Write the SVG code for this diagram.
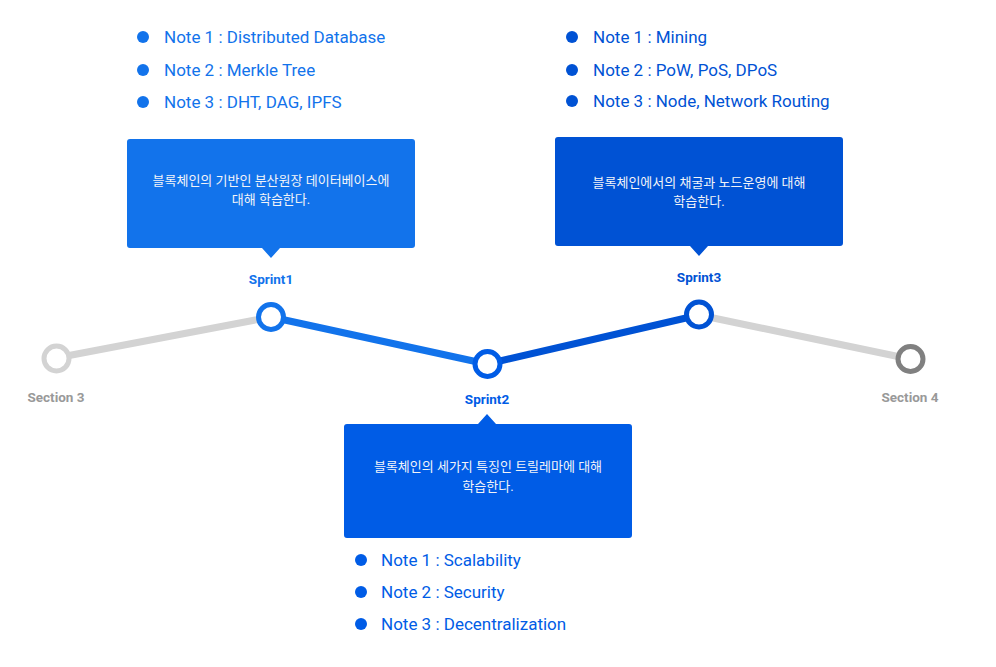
<svg xmlns="http://www.w3.org/2000/svg" width="996" height="667" viewBox="0 0 996 667">
<style>
.note{font-family:Roboto,"Liberation Sans",sans-serif;font-size:17px}
.c1{fill:#1273EB}.c2{fill:#005CE6}.c3{fill:#0052D4}
.box{font-family:Roboto,"Noto Sans CJK KR",sans-serif;font-size:13px;fill:#f2f4f8;text-anchor:middle}
.lbl{font-family:Roboto,"Liberation Sans",sans-serif;font-size:13.5px;font-weight:bold;text-anchor:middle}
.sec{fill:#999999}
.node{fill:#ffffff;stroke-width:5}
</style>
<rect width="996" height="667" fill="#ffffff"/>
<g id="connectors" stroke-width="7" stroke-linecap="round" fill="none">
<line x1="56" y1="358" x2="271" y2="317" stroke="#d3d3d3"/>
<line x1="271" y1="317" x2="487" y2="364" stroke="#1273EB"/>
<line x1="487" y1="364" x2="699" y2="315" stroke="#0052D4"/>
<line x1="699" y1="315" x2="910" y2="359" stroke="#d3d3d3"/>
</g>
<g id="section3">
<circle class="node" cx="56.5" cy="358.5" r="12.5" stroke="#d3d3d3"/>
<text class="lbl sec" x="56" y="402">Section 3</text>
</g>
<g id="section4">
<circle class="node" cx="910.5" cy="359" r="12.5" stroke="#808080"/>
<text class="lbl sec" x="910" y="402">Section 4</text>
</g>
<g id="sprint1">
<circle class="node" cx="271" cy="317" r="12.5" stroke="#1273EB"/>
<text class="lbl c1" x="271" y="284">Sprint1</text>
<path d="M130,139 H412 A3,3 0 0 1 415,142 V245 A3,3 0 0 1 412,248 H280 L271,258 L262,248 H130 A3,3 0 0 1 127,245 V142 A3,3 0 0 1 130,139 Z" fill="#1273EB"/>
<text class="box" x="271" y="185">블록체인의 기반인 분산원장 데이터베이스에</text>
<text class="box" x="271" y="204">대해 학습한다.</text>
<circle class="c1" cx="143" cy="37" r="6"/>
<circle class="c1" cx="143" cy="70" r="6"/>
<circle class="c1" cx="143" cy="102" r="6"/>
<text class="note c1" x="164" y="43">Note 1 : Distributed Database</text>
<text class="note c1" x="164" y="76">Note 2 : Merkle Tree</text>
<text class="note c1" x="164" y="108">Note 3 : DHT, DAG, IPFS</text>
</g>
<g id="sprint2">
<circle class="node" cx="487.5" cy="364" r="12.5" stroke="#005CE6"/>
<text class="lbl c2" x="487" y="404">Sprint2</text>
<path d="M347,424 H478 L487,414 L496,424 H629 A3,3 0 0 1 632,427 V535 A3,3 0 0 1 629,538 H347 A3,3 0 0 1 344,535 V427 A3,3 0 0 1 347,424 Z" fill="#005CE6"/>
<text class="box" x="488" y="471">블록체인의 세가지 특징인 트릴레마에 대해</text>
<text class="box" x="488" y="491">학습한다.</text>
<circle class="c2" cx="361" cy="560" r="6"/>
<circle class="c2" cx="361" cy="592" r="6"/>
<circle class="c2" cx="361" cy="624" r="6"/>
<text class="note c2" x="381" y="566">Note 1 : Scalability</text>
<text class="note c2" x="381" y="598">Note 2 : Security</text>
<text class="note c2" x="381" y="630">Note 3 : Decentralization</text>
</g>
<g id="sprint3">
<circle class="node" cx="699" cy="314.5" r="12.5" stroke="#0052D4"/>
<text class="lbl c3" x="699" y="282">Sprint3</text>
<path d="M558,137 H840 A3,3 0 0 1 843,140 V243 A3,3 0 0 1 840,246 H708 L699,256 L690,246 H558 A3,3 0 0 1 555,243 V140 A3,3 0 0 1 558,137 Z" fill="#0052D4"/>
<text class="box" x="699" y="187">블록체인에서의 채굴과 노드운영에 대해</text>
<text class="box" x="699" y="206">학습한다.</text>
<circle class="c3" cx="572" cy="37" r="6"/>
<circle class="c3" cx="572" cy="70" r="6"/>
<circle class="c3" cx="572" cy="101" r="6"/>
<text class="note c3" x="593" y="43">Note 1 : Mining</text>
<text class="note c3" x="593" y="76">Note 2 : PoW, PoS, DPoS</text>
<text class="note c3" x="593" y="107">Note 3 : Node, Network Routing</text>
</g>
</svg>
